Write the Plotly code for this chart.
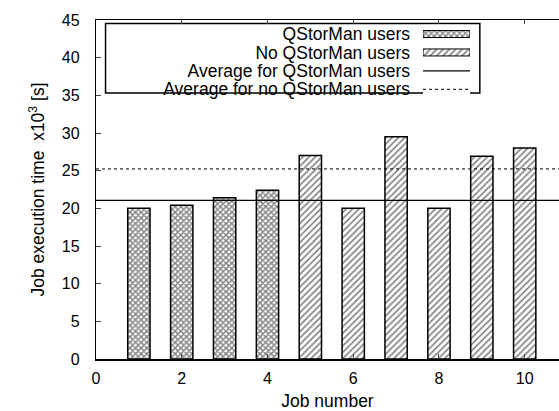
import plotly.graph_objects as go

# Job execution times (x10^3 s)
jobs_qstorman = [1, 2, 3, 4]
times_qstorman = [20.0, 20.4, 21.4, 22.4]
jobs_plain = [5, 6, 7, 8, 9, 10]
times_plain = [27.0, 20.0, 29.5, 20.0, 26.9, 28.0]

x_ticks = [0, 2, 4, 6, 8, 10]
y_ticks = [0, 5, 10, 15, 20, 25, 30, 35, 40, 45]
x_limits = [0, 10.8]
y_limits = [0, 45]

series_names = [
    "QStorMan users",
    "No QStorMan users",
    "Average for QStorMan users",
    "Average for no QStorMan users",
]

avg_qstorman = sum(times_qstorman) / len(times_qstorman)
avg_plain = sum(times_plain) / len(times_plain)

FONT = "Liberation Sans, Arial, sans-serif"

cross = dict(shape="x", size=4, solidity=0.6, fgcolor="black", bgcolor="white")
hatch = dict(shape="/", size=4.5, solidity=0.35, fgcolor="black", bgcolor="white")
solid_line = dict(color="black", width=1.3)
dotted_line = dict(color="black", width=1, dash="dot")

fig = go.Figure()

# main chart
fig.add_trace(go.Bar(
    x=jobs_qstorman, y=times_qstorman, width=0.52, name=series_names[0],
    marker=dict(color="white", line=dict(color="black", width=1.5), pattern=cross),
))
fig.add_trace(go.Bar(
    x=jobs_plain, y=times_plain, width=0.52, name=series_names[1],
    marker=dict(color="white", line=dict(color="black", width=1.5), pattern=hatch),
))

# group averages as full-width horizontal rules
fig.add_hline(y=avg_qstorman, line=solid_line)
fig.add_hline(y=avg_plain, line=dotted_line)

# key: labels on the left (as category ticks), samples on the right
fig.add_trace(go.Bar(
    x=[1], y=[series_names[0]], orientation="h", width=0.38,
    xaxis="x2", yaxis="y2",
    marker=dict(color="white", line=dict(color="black", width=1), pattern=cross),
))
fig.add_trace(go.Bar(
    x=[1], y=[series_names[1]], orientation="h", width=0.38,
    xaxis="x2", yaxis="y2",
    marker=dict(color="white", line=dict(color="black", width=1), pattern=hatch),
))
fig.add_trace(go.Scatter(
    x=[0, 1], y=[series_names[2]] * 2, mode="lines",
    xaxis="x2", yaxis="y2", line=solid_line,
))
fig.add_trace(go.Scatter(
    x=[0, 1], y=[series_names[3]] * 2, mode="lines",
    xaxis="x2", yaxis="y2", line=dotted_line,
))

fig.update_layout(
    width=559, height=411,
    margin=dict(l=96, r=0, t=20, b=52),
    plot_bgcolor="white", paper_bgcolor="white",
    font=dict(family=FONT, size=16, color="black"),
    showlegend=False,
    barmode="overlay",
    xaxis=dict(
        range=x_limits, tickvals=x_ticks, ticks="inside", ticklen=5,
        showline=True, linecolor="black", linewidth=2, mirror=False,
        showgrid=False, zeroline=False, ticklabelstandoff=4, automargin=False,
        title=dict(text="Job number", standoff=15, font=dict(size=17.5)),
    ),
    # top frame edge with its own inward ticks
    xaxis3=dict(
        range=x_limits, tickvals=x_ticks, ticks="inside", ticklen=4,
        overlaying="x", side="top", anchor="y",
        showline=True, linecolor="black", linewidth=1.3,
        showticklabels=False, showgrid=False, zeroline=False, automargin=False,
    ),
    yaxis=dict(
        range=y_limits, tickvals=y_ticks, ticks="inside", ticklen=5,
        showline=True, linecolor="black", linewidth=1.3, mirror=False,
        showgrid=False, zeroline=False, ticklabelstandoff=12, automargin=False,
        title=dict(text="Job execution time\u00a0 x10<sup>3</sup> [s]",
                   standoff=12, font=dict(size=17.5)),
    ),
    xaxis2=dict(
        domain=[0.7063, 0.8078], range=[0, 1], anchor="y2",
        visible=False, fixedrange=True,
    ),
    yaxis2=dict(
        domain=[0.7684, 0.9858], anchor="x2", type="category",
        categoryorder="array", categoryarray=series_names,
        tickmode="array", tickvals=series_names,
        range=[3.5, -0.5], showgrid=False, zeroline=False, showline=False,
        ticks="", ticklabelstandoff=12, tickfont=dict(size=17.5),
        fixedrange=True, automargin=False,
    ),
)

# frame around the key
fig.add_shape(
    type="rect", xref="paper", yref="paper",
    x0=0.0206, x1=0.829, y0=0.7847, y1=0.9897,
    line=dict(color="black", width=1.5), fillcolor="white", layer="below",
)

# the top-edge axis needs a (hidden) trace to be drawn
fig.add_trace(go.Scatter(x=[], y=[], xaxis="x3", yaxis="y", showlegend=False))

fig.write_html("out.html")
